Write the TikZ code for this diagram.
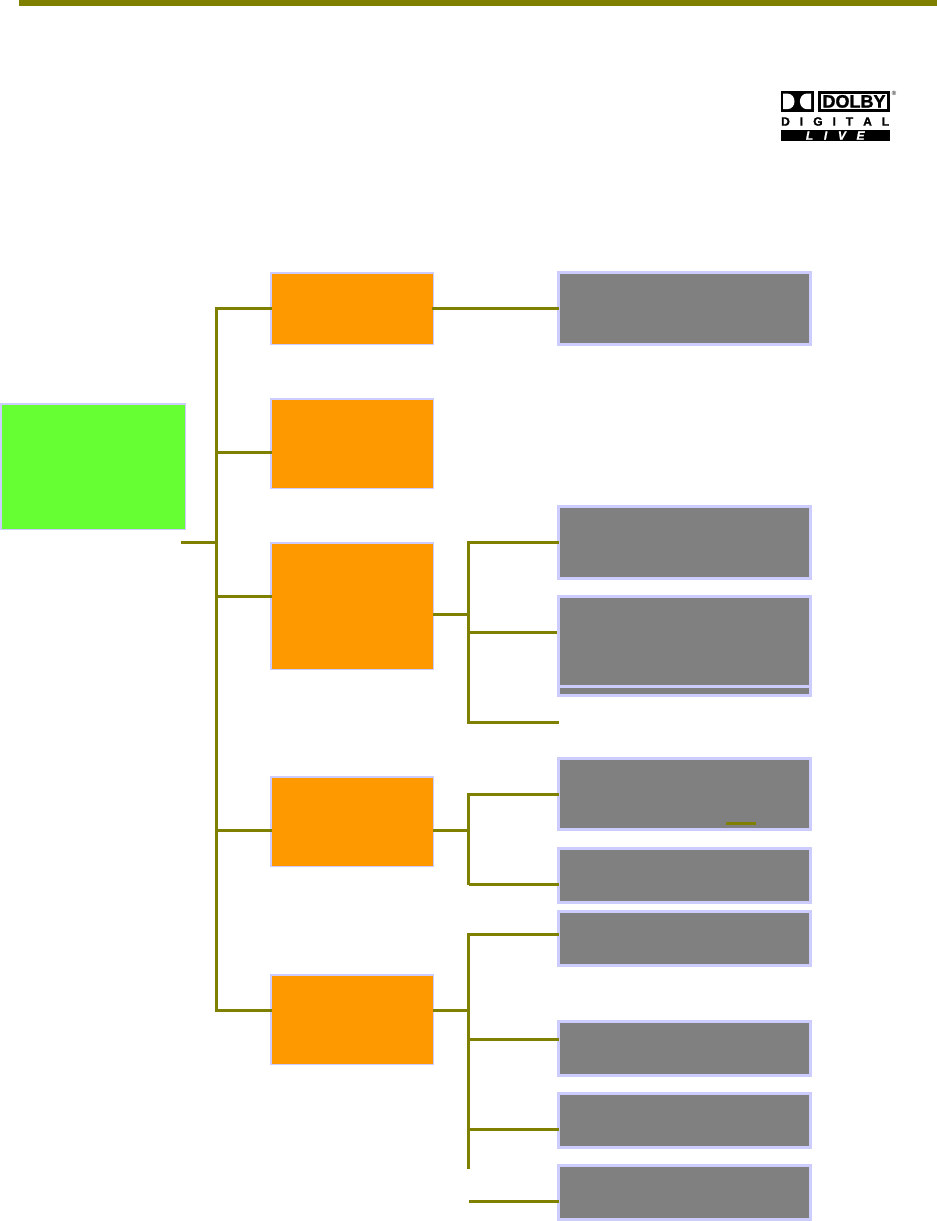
\documentclass[tikz,border=0pt]{standalone}
\usepackage{fontspec}
\usepackage{xcolor}
\setmainfont{Liberation Sans}
\definecolor{barolive}{HTML}{808000}
\definecolor{boxedge}{HTML}{CCCCFF}
\definecolor{boxorange}{HTML}{FF9900}
\definecolor{boxgreen}{HTML}{66FF33}
\definecolor{boxgray}{HTML}{808080}
\def\px{0.75pt}
\tikzset{
    link/.style={draw=barolive, line width=3*\px},
    tiplink/.style={link, shorten >=-1.7*\px},
    rootbox/.style={draw=boxedge, fill=boxgreen, line width=1.5*\px, inner sep=0pt, minimum width=184.5*\px},
    menubox/.style={draw=boxedge, fill=boxorange, line width=1.5*\px, inner sep=0pt, minimum width=162.5*\px},
    itembox/.style={draw=boxedge, fill=boxgray, line width=3*\px, inner sep=0pt, minimum width=252*\px},
}

\begin{document}
\begin{tikzpicture}[x=0.75pt, y=-0.75pt]
    \useasboundingbox (0,0) rectangle (937,1221);
    \fill[barolive] (19,0) rectangle (937,6);

    \node[rootbox, minimum height=125.5*\px] (root) at (93,466.5) {};
    \node[menubox, minimum height=71.5*\px] (menuA) at (352,308.5) {};
    \node[menubox, minimum height=89.5*\px] (menuB) at (352,443.5) {};
    \node[menubox, minimum height=126.5*\px] (menuC) at (352,606) {};
    \node[menubox, minimum height=89.5*\px] (menuD) at (352,821.5) {};
    \node[menubox, minimum height=89.5*\px] (menuE) at (352,1019.5) {};

    \foreach \name/\ypos/\high in {itemA/308.5/72, itemB/542.5/72, itemD/691/9, itemC/641.5/90,
        itemE/794/71, itemF/875.5/54, itemG/938.5/54, itemH/1048.5/54, itemI/1120.5/54, itemJ/1192.5/54}
        \node[itembox, minimum height=\high*\px] (\name) at (684.5,\ypos) {};

    \fill[barolive] (726,822) rectangle (756,825);

    \coordinate (rootstub) at (181,542.3);
    \coordinate (rootbus) at (216.5,542.3);
    \coordinate (busTop) at (216.5,306.8);
    \coordinate (busEnd) at (216.5,1011.8);
    \draw[link] (busTop) -- (busEnd);
    \draw[link] (rootstub) -- (rootbus);
    \foreach \ypos/\target in {308.3/menuA, 452.3/menuB, 596.3/menuC, 830.3/menuD, 1010.3/menuE}
        \draw[tiplink] (216.5,\ypos) -- (\target.west |- 0,\ypos);

    \draw[tiplink, shorten <=-1.7*\px] (menuA.east) -- (itemA.west);

    \coordinate (splitC) at (468.3,614.3);
    \coordinate (openC) at (559,722.3);
    \draw[link, shorten <=-1*\px] (menuC.east |- splitC) -- (splitC);
    \draw[link] (468.3,541) -- (468.3,723.8);
    \draw[tiplink] (469,542.3) -- (itemB.west |- 0,542.3);
    \draw[link] (469,632.3) -- (itemC.west |- 0,632.3);
    \draw[link] (469,722.3) -- (openC);

    \coordinate (splitD) at (468.3,830.3);
    \draw[link, shorten <=-1*\px] (menuD.east |- splitD) -- (splitD);
    \draw[link] (468.3,793) -- (468.3,885);
    \draw[tiplink] (469,794.3) -- (itemE.west |- 0,794.3);
    \draw[tiplink] (469,884.3) -- (itemF.west |- 0,884.3);

    \coordinate (splitE) at (468.3,1010.3);
    \coordinate (busEndE) at (468.3,1169);
    \coordinate (openE) at (469,1201.3);
    \draw[link, shorten <=-1*\px] (menuE.east |- splitE) -- (splitE);
    \draw[link] (468.3,933) -- (busEndE);
    \foreach \ypos/\target in {934.3/itemG, 1039.3/itemH, 1129.3/itemI}
        \draw[tiplink] (469,\ypos) -- (\target.west |- 0,\ypos);
    \draw[tiplink] (openE) -- (itemJ.west |- openE);

    \fill[black] (780.7,90.7) rectangle (813.7,112);
    \fill[white] (783.2,93.5) -- (787,93.5) .. controls (797,93.5) and (797,109.2) .. (787,109.2) -- (783.2,109.2) -- cycle;
    \fill[white] (811.2,93.5) -- (807.4,93.5) .. controls (797.4,93.5) and (797.4,109.2) .. (807.4,109.2) -- (811.2,109.2) -- cycle;
    \draw[black, line width=3*\px] (819.5,92.2) rectangle (888.5,110.5);
    \node[inner sep=0pt, font=\bfseries\fontsize{13.5}{14}\selectfont\addfontfeature{FakeBold=1.5}] (logoA) at (854,101.4) {DOLBY};
    \node[inner sep=0pt, font=\fontsize{4.5}{5}\selectfont] (logoB) at (894,93) {®};
    \node[inner sep=0pt, font=\bfseries\fontsize{9}{10}\selectfont\addfontfeature{FakeBold=1.5}] (logoC) at (835.2,121.5) {\makebox[81pt][s]{D\hfill I\hfill G\hfill I\hfill T\hfill A\hfill L}};
    \node[fill=black, text=white, inner sep=0pt, minimum width=81.5pt, minimum height=8.8pt, font=\bfseries\itshape\fontsize{9}{9}\selectfont\addfontfeature{FakeBold=1}] (logoD) at (835.2,135.6) {\makebox[44pt][s]{L\hfill I\hfill V\hfill E}};
\end{tikzpicture}
\end{document}
